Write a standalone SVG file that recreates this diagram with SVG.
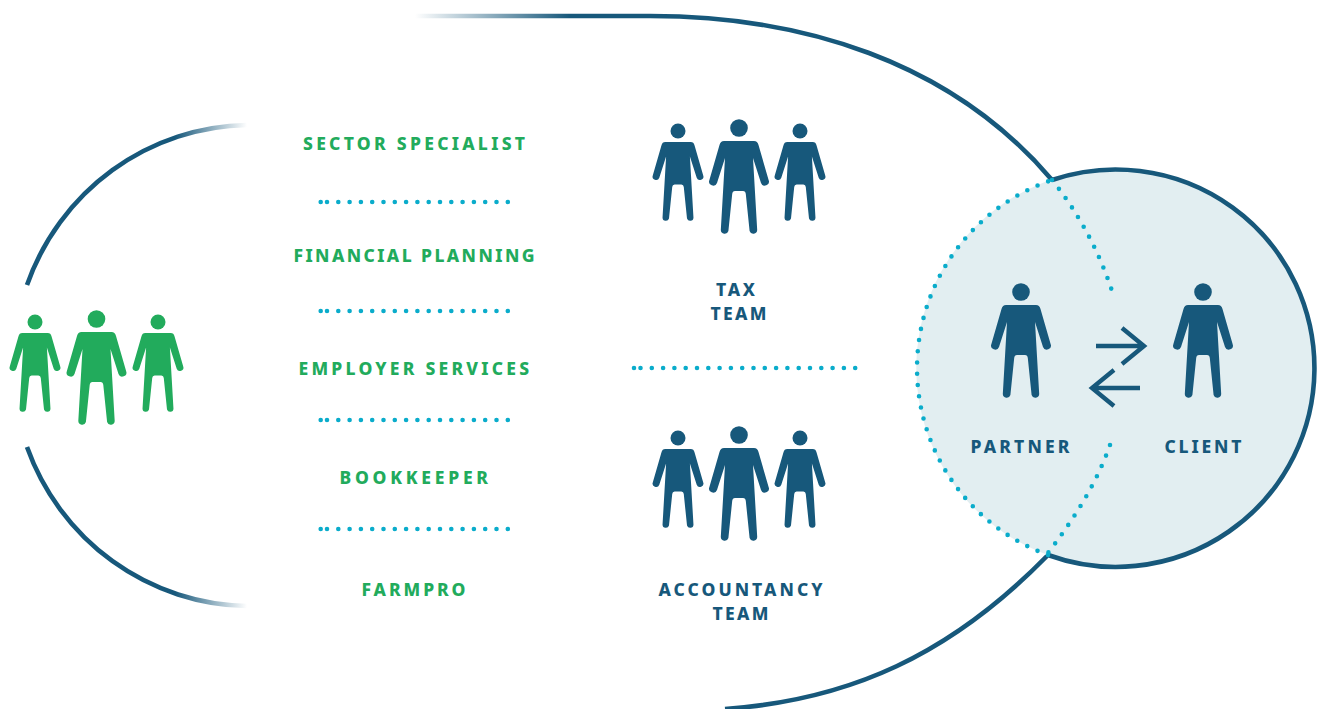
<svg xmlns="http://www.w3.org/2000/svg" width="1325" height="709" viewBox="0 0 1325 709">
<style>
.b{fill:#17587b}.g{fill:#22ab5c}
.arc{fill:none;stroke:#17587b;stroke-width:4.6}
.dot{fill:none;stroke:#0aaccb;stroke-width:4.6;stroke-linecap:round;stroke-dasharray:0 11.3}
.arrow{fill:none;stroke:#17587b;stroke-width:4.4}
text{font-family:"Noto Sans","Open Sans",sans-serif;font-weight:800;font-size:17.5px;text-anchor:start}
.tg{fill:#22ab5c}.tb{fill:#17587b}
</style>
<defs>
<linearGradient id="gt" gradientUnits="userSpaceOnUse" x1="415" y1="0" x2="570" y2="0"><stop offset="0" stop-color="#17587b" stop-opacity="0"/><stop offset="1" stop-color="#17587b"/></linearGradient>
<linearGradient id="gl" gradientUnits="userSpaceOnUse" x1="247" y1="0" x2="175" y2="0"><stop offset="0" stop-color="#17587b" stop-opacity="0"/><stop offset="1" stop-color="#17587b"/></linearGradient>
<g id="p"><circle cx="0" cy="0" r="8.8"/><path d="M-15 13H15Q18.500 13 19.500 17L29.600 52A4 4 0 0 1 22 55L14 30 18.200 102A3.900 3.900 0 0 1 10.600 103L6.800 66Q6.500 63 4 63H-4Q-6.500 63-6.800 66L-10.600 103A3.900 3.900 0 0 1-18.200 102L-14 30-22 55A4 4 0 0 1-29.600 52L-19.500 17Q-18.500 13-15 13Z"/></g>
</defs>
<circle id="client-circle" cx="1115" cy="368" r="198.700" fill="#e2eef1"/>
<g id="connectors">
<path class="arc" style="stroke:url(#gt)" d="M415 16H650C800 16 950 60 1052 180"/>
<path class="arc" d="M1047 556C950 655 850 700 725 709"/>
<path class="arc" style="stroke:url(#gl)" d="M247 125A238 241 0 0 0 27 285"/>
<path class="arc" style="stroke:url(#gl)" d="M27 447A238 241 0 0 0 247 606"/>
<path class="arc" d="M1052 180A198.700 198.700 0 1 1 1048 555"/>
<path class="dot" d="M1048 555A198.700 198.700 0 0 1 1052 180"/>
<path class="dot" d="M1052 180C1078 212 1099 251 1112 291"/>
<path class="dot" d="M1110 445C1096 485 1073 520 1048 553"/>
<path class="dot" d="M320.700 202h.01M327 202H509M320.700 311h.01M327 311H509M320.700 420h.01M327 420H509M320.700 529h.01M327 529H509M634 368h.01M640.500 368H856"/>
<path class="arrow" d="M1096 346H1142M1122 328L1144 346 1122 364"/>
<path class="arrow" d="M1140 388H1094M1114 370L1092 388 1114 406"/>
</g>
<g id="green-team" class="g"><use href="#p" transform="translate(35 322) scale(.85)"/><use href="#p" transform="translate(96.500 319)"/><use href="#p" transform="translate(158 322) scale(.85)"/></g>
<g id="tax-team" class="b"><use href="#p" transform="translate(678 131) scale(.85)"/><use href="#p" transform="translate(739 128)"/><use href="#p" transform="translate(800 131) scale(.85)"/>
<text class="tb" x="716" y="296" textLength="39">TAX</text><text class="tb" x="710.500" y="320" textLength="56">TEAM</text></g>
<g id="accountancy-team" class="b"><use href="#p" transform="translate(678 438) scale(.85)"/><use href="#p" transform="translate(739 435)"/><use href="#p" transform="translate(800 438) scale(.85)"/>
<text class="tb" x="658.500" y="596" textLength="164">ACCOUNTANCY</text><text class="tb" x="712.500" y="620" textLength="56">TEAM</text></g>
<g id="partner" class="b"><use href="#p" transform="translate(1021 292)"/><text class="tb" x="970.500" y="453" textLength="99">PARTNER</text></g>
<g id="client" class="b"><use href="#p" transform="translate(1203 292)"/><text class="tb" x="1164.500" y="453" textLength="77">CLIENT</text></g>
<g id="sector-specialist"><text class="tg" x="303" y="150" textLength="222">SECTOR SPECIALIST</text></g>
<g id="financial-planning"><text class="tg" x="293.500" y="262" textLength="241">FINANCIAL PLANNING</text></g>
<g id="employer-services"><text class="tg" x="298.500" y="375" textLength="230.500">EMPLOYER SERVICES</text></g>
<g id="bookkeeper"><text class="tg" x="339.500" y="484" textLength="148.500">BOOKKEEPER</text></g>
<g id="farmpro"><text class="tg" x="361.500" y="596" textLength="104">FARMPRO</text></g>
</svg>
